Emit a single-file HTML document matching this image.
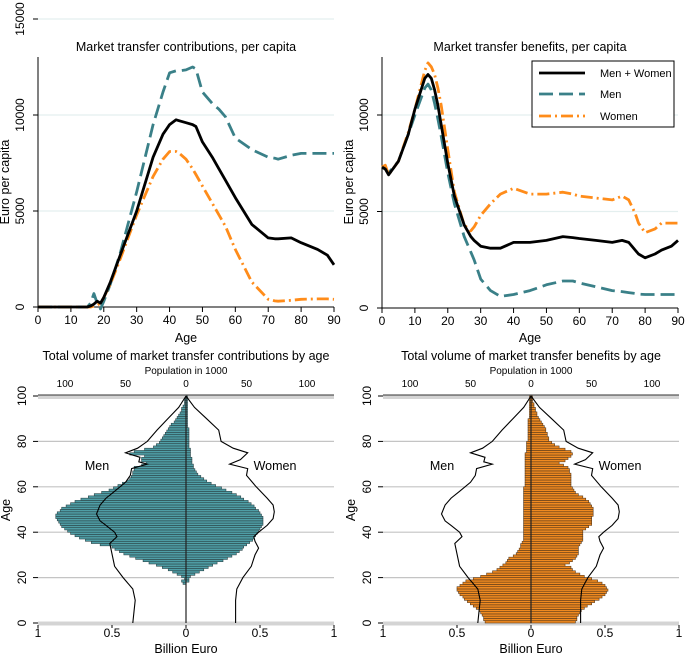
<!DOCTYPE html>
<html><head><meta charset="utf-8"><style>
body{margin:0;background:#fff;}
svg{display:block;font-family:"Liberation Sans",Arial,sans-serif;}
</style></head><body>
<svg id="fig" width="685" height="656" viewBox="0 0 685 656"></svg>
<script>
// ---- Per-capita data (age knots) ----
const cAges = [0,15,16,17,18,19,20,22,25,30,35,38,40,42,43,45,47,48,50,53,55,57,60,65,70,72,73,77,80,85,88,90];
const cTotal = [0,0,50,150,300,200,500,1300,2700,5000,7800,9000,9500,9750,9700,9600,9500,9400,8600,7800,7200,6600,5700,4300,3600,3550,3550,3600,3350,3000,2700,2200];
const cMen   = [0,0,200,700,200,-100,300,1200,2800,6000,9500,11200,12200,12300,12300,12350,12500,12400,11200,10600,10300,9900,8800,8200,7800,7750,7700,7900,8000,8000,8000,8000];
const cWomen = [0,0,0,50,100,200,500,1200,2500,4800,6800,7700,8100,8100,8000,7700,7200,6900,6300,5400,4800,4200,3000,1300,400,320,300,350,400,420,420,400];
const bAges = [0,1,2,5,8,10,13,14,15,16,17,18,20,22,25,27,28,30,33,36,40,45,50,55,58,60,65,70,73,75,77,78,80,83,85,88,90];
const bTotal = [7300,7200,6900,7600,9000,10300,11900,12100,11900,11300,10500,9500,7500,5800,4300,3700,3500,3200,3100,3100,3400,3400,3500,3700,3650,3600,3500,3400,3500,3400,3000,2800,2600,2800,3000,3200,3500];
const bMen   = [7300,7200,7000,7600,9000,10000,11400,11600,11300,10600,9800,8900,7000,5400,3700,2900,2500,1500,900,600,700,900,1200,1400,1400,1300,1100,900,850,800,750,720,700,700,700,700,700];
const bWomen = [7300,7400,6900,7600,9100,10300,12300,12700,12500,12100,11400,10500,8200,6000,4300,4000,4200,4800,5400,5900,6200,5900,5900,6000,5900,5800,5700,5600,5800,5600,4900,4400,3900,4100,4400,4400,4400];
const yTicks = [0,5000,10000,15000];
const xTicks = [0,10,20,30,40,50,60,70,80,90];

// ---- Pyramid data (ages 0..100) ----
const contribMen = [0,0,0,0,0,0,0,0,0,0,0,0,0,0,0,0,0,0.02,0.03,0.01,0.03,0.06,0.09,0.12,0.16,0.2,0.25,0.29,0.34,0.38,0.42,0.45,0.48,0.5,0.58,0.64,0.68,0.72,0.75,0.78,0.8,0.82,0.84,0.85,0.86,0.87,0.88,0.88,0.87,0.85,0.84,0.81,0.78,0.75,0.71,0.66,0.62,0.57,0.52,0.49,0.46,0.43,0.4,0.38,0.37,0.36,0.36,0.35,0.35,0.3,0.27,0.3,0.3,0.28,0.38,0.35,0.28,0.22,0.2,0.18,0.17,0.16,0.15,0.14,0.13,0.12,0.11,0.1,0.08,0.07,0.06,0.05,0.04,0.03,0.03,0.02,0.01,0.01,0.01,0,0];
const contribWomen = [0,0,0,0,0,0,0,0,0,0,0,0,0,0,0,0,0,0,0.02,0.02,0.03,0.06,0.09,0.12,0.15,0.18,0.21,0.25,0.28,0.31,0.34,0.36,0.38,0.39,0.41,0.43,0.45,0.46,0.47,0.48,0.49,0.5,0.51,0.52,0.52,0.52,0.52,0.51,0.5,0.49,0.47,0.46,0.44,0.42,0.39,0.37,0.34,0.31,0.27,0.24,0.2,0.17,0.14,0.12,0.1,0.08,0.07,0.06,0.05,0.05,0.04,0.04,0.04,0.03,0.03,0.03,0.03,0.02,0.02,0.02,0.02,0.02,0.02,0.02,0.02,0.02,0.01,0.01,0.01,0.01,0.01,0.01,0.01,0.01,0.01,0.01,0.01,0.01,0.01,0.01,0];
const benefitMen = [0.31,0.32,0.32,0.33,0.34,0.35,0.37,0.39,0.41,0.43,0.45,0.46,0.48,0.49,0.5,0.5,0.48,0.46,0.44,0.39,0.34,0.3,0.26,0.23,0.21,0.19,0.17,0.16,0.15,0.12,0.1,0.09,0.08,0.07,0.07,0.06,0.05,0.05,0.05,0.05,0.05,0.05,0.05,0.05,0.05,0.05,0.05,0.05,0.05,0.05,0.05,0.05,0.05,0.05,0.05,0.05,0.05,0.05,0.05,0.05,0.04,0.04,0.04,0.04,0.04,0.04,0.04,0.04,0.04,0.04,0.04,0.04,0.04,0.04,0.04,0.03,0.03,0.03,0.03,0.03,0.02,0.02,0.02,0.02,0.02,0.02,0.02,0.02,0.02,0.02,0.01,0.01,0.01,0.01,0.01,0.01,0.01,0.01,0.01,0.01,0];
const benefitWomen = [0.3,0.31,0.31,0.32,0.33,0.34,0.36,0.38,0.41,0.43,0.46,0.48,0.5,0.51,0.52,0.51,0.5,0.48,0.45,0.41,0.36,0.33,0.3,0.28,0.27,0.23,0.26,0.28,0.3,0.31,0.32,0.32,0.32,0.32,0.33,0.34,0.35,0.35,0.35,0.35,0.35,0.37,0.39,0.41,0.41,0.41,0.41,0.42,0.42,0.42,0.42,0.41,0.4,0.39,0.37,0.35,0.32,0.3,0.29,0.28,0.27,0.27,0.27,0.27,0.27,0.27,0.26,0.26,0.25,0.22,0.19,0.23,0.25,0.27,0.28,0.27,0.23,0.19,0.16,0.14,0.12,0.12,0.11,0.11,0.1,0.1,0.09,0.08,0.07,0.06,0.05,0.04,0.04,0.03,0.03,0.02,0.02,0.01,0.01,0.01,0];
const popAges = [0,5,10,15,20,25,30,35,38,40,43,45,48,52,55,58,62,65,68,70,71,73,75,77,80,85,90,95,100];
const popMen   = [44,43,42,44,52,59,61,63,57,59,66,71,74,71,66,59,50,46,45,32,39,38,50,40,32,24,15,6,0];
const popAgesW = [0,5,10,15,20,25,30,33,36,38,40,43,46,49,52,55,60,65,68,70,72,75,77,80,85,90,95,100];
const popWomen = [41,41,41,42,47,54,57,60,57,56,60,67,72,73,72,67,58,50,51,36,45,51,39,29,27,17,7,0];
const pyrTicksB = [1,0.5,0,0.5,1];
const pyrTicksP = [100,50,0,50,100];
const pyrAgeTicks = [0,20,40,60,80,100];

const NS="http://www.w3.org/2000/svg";
const svg=document.getElementById('fig');
function mk(tag,attrs,parent){const e=document.createElementNS(NS,tag);for(const k in attrs)e.setAttribute(k,attrs[k]);(parent||svg).appendChild(e);return e;}
function txt(x,y,s,size,anchor,rot,parent){const t=mk('text',{x:x,y:y,'font-size':size,'text-anchor':anchor||'middle',fill:'#000'},parent);if(rot)t.setAttribute('transform','rotate(-90 '+x+' '+y+')');t.textContent=s;return t;}

const TEAL='#3a8088', ORANGE='#ff8c1a';

function lineChart(cfg){
  const g=mk('g',{});
  
  
  const X=a=>cfg.x0+(cfg.x1-cfg.x0)*a/90;
  const Y=v=>cfg.y0-(cfg.y0-cfg.y10k)*v/10000;
  yTicks.forEach(v=>{
    if(v===15000 && !cfg.show15) return;
    if(v>0){const gl=mk('line',{x1:cfg.x0,x2:cfg.x1,y1:Y(v),y2:Y(v),stroke:'#e4efef','stroke-width':1.2},g);
      }
    mk('line',{x1:cfg.x0-5,x2:cfg.x0,y1:Y(v),y2:Y(v),stroke:'#000','stroke-width':1},g);
    const t=txt(cfg.x0-14,Y(v),String(v),12,'middle',true,g);
    
  });
  mk('line',{x1:cfg.x0,x2:cfg.x0,y1:57,y2:cfg.y0,stroke:'#000','stroke-width':1},g);
  mk('line',{x1:cfg.x0,x2:cfg.x1,y1:cfg.y0,y2:cfg.y0,stroke:'#000','stroke-width':1},g);
  xTicks.forEach(a=>{
    mk('line',{x1:X(a),x2:X(a),y1:cfg.y0,y2:cfg.y0+5,stroke:'#000','stroke-width':1},g);
    const t=txt(X(a),cfg.y0+17,String(a),12,'middle',false,g);
    
  });
  const tt=txt((cfg.x0+cfg.x1)/2,51,cfg.title,12.5,'middle',false,g);
  
  const yl=txt(cfg.x0-29,182,'Euro per capita',12.5,'middle',true,g);
  
  const xl=txt((cfg.x0+cfg.x1)/2,342,'Age',12.5,'middle',false,g);
  
  const series=[[cfg.men,TEAL,'14 6','men-line'],[cfg.women,ORANGE,'12 4 2 4','women-line'],[cfg.total,'#000','','total-line']];
  series.forEach(s=>{
    const d=cfg.ages.map((a,i)=>(i?'L':'M')+X(a).toFixed(1)+','+Y(s[0][i]).toFixed(1)).join(' ');
    const p=mk('path',{d:d,fill:'none',stroke:s[1],'stroke-width':2.8,'stroke-linejoin':'round'},g);
    if(s[2])p.setAttribute('stroke-dasharray',s[2]);
    
  });
}
lineChart({name:'contributions-per-capita-chart',x0:38,x1:334,y0:307,y10k:115,ages:cAges,total:cTotal,men:cMen,women:cWomen,title:'Market transfer contributions, per capita',show15:true});
lineChart({name:'benefits-per-capita-chart',x0:382,x1:678,y0:308,y10k:115,ages:bAges,total:bTotal,men:bMen,women:bWomen,title:'Market transfer benefits, per capita',show15:false});

// legend
const lg=mk('g',{});


mk('rect',{x:532,y:61,width:142,height:66,fill:'#fff',stroke:'#000','stroke-width':1},lg);
[['Men + Women','#000','',73],['Men',TEAL,'14 6',94],['Women',ORANGE,'12 4 2 4',116]].forEach(e=>{
  const l=mk('line',{x1:539,x2:585,y1:e[3],y2:e[3],stroke:e[1],'stroke-width':2.8},lg);
  if(e[2])l.setAttribute('stroke-dasharray',e[2]);
  const t=txt(600,e[3]+4,e[0],11,'start',false,lg);
  
});

function pyramid(cfg){
  const g=mk('g',{});
  
  
  const cx=cfg.cx, W=148;
  const XB=v=>W*v;
  const XP=v=>1.21*v;
  const Y=a=>623-2.27*a;
  const L=cx-W, R=cx+W;
  mk('rect',{x:L,y:Y(0)-1.5,width:2*W,height:4,fill:'#d4d4d4'},g);
  mk('rect',{x:L,y:Y(100)-1,width:2*W,height:4,fill:'#d4d4d4'},g);
  mk('line',{x1:L,x2:R,y1:Y(100)-1,y2:Y(100)-1,stroke:'#333','stroke-width':1},g);
  pyrAgeTicks.forEach(a=>{
    if(a>0&&a<100){const gl=mk('line',{x1:L,x2:R,y1:Y(a),y2:Y(a),stroke:'#c4c4c4','stroke-width':1.2},g);
      }
    mk('line',{x1:L-5,x2:L,y1:Y(a),y2:Y(a),stroke:'#000','stroke-width':1},g);
    const t=txt(L-12,Y(a),String(a),12,'middle',true,g);
    
  });
  for(let a=0;a<=100;a++){
    const h=2.27;
    if(cfg.men[a]>0){const r=mk('rect',{x:cx-XB(cfg.men[a]),y:Y(a)-h,width:XB(cfg.men[a]),height:h,fill:cfg.fill,stroke:cfg.stroke,'stroke-width':0.6},g);
      }
    if(cfg.women[a]>0){const r=mk('rect',{x:cx,y:Y(a)-h,width:XB(cfg.women[a]),height:h,fill:cfg.fill,stroke:cfg.stroke,'stroke-width':0.6},g);
      }
  }
  mk('line',{x1:cx,x2:cx,y1:Y(100),y2:Y(0),stroke:'#222','stroke-width':1.2},g);
  const dm=popAges.map((a,i)=>(i?'L':'M')+(cx-XP(popMen[i])).toFixed(1)+','+Y(a).toFixed(1)).join(' ');
  const pm=mk('path',{d:dm,fill:'none',stroke:'#000','stroke-width':1.1},g);
  
  const dw=popAgesW.map((a,i)=>(i?'L':'M')+(cx+XP(popWomen[i])).toFixed(1)+','+Y(a).toFixed(1)).join(' ');
  const pw=mk('path',{d:dw,fill:'none',stroke:'#000','stroke-width':1.1},g);
  
  pyrTicksB.forEach((v,i)=>{
    const x=i<2?cx-XB(v):cx+XB(v);
    mk('line',{x1:x,x2:x,y1:Y(0)+2,y2:Y(0)+5,stroke:'#000'},g);
    const t=txt(x,637,String(v),12,'middle',false,g);
    
  });
  pyrTicksP.forEach((v,i)=>{
    const x=i<2?cx-XP(v):cx+XP(v);
    const t=txt(x,387,String(v),10,'middle',false,g);
    
  });
  const t1=txt(cx,374,'Population in 1000',10,'middle',false,g);
  
  const t2=txt(cx,360,cfg.title,12.5,'middle',false,g);
  
  const t3=txt(cx,653,'Billion Euro',12.5,'middle',false,g);
  
  const t4=txt(L-28,510,'Age',12.5,'middle',true,g);
  
  const t5=txt(cx-89,470,'Men',12.5,'middle',false,g);
  
  const t6=txt(cx+89,470,'Women',12.5,'middle',false,g);
  
}
pyramid({name:'contributions-pyramid',cx:186,men:contribMen,women:contribWomen,fill:'#4f9ea6',stroke:'#2b4548',title:'Total volume of market transfer contributions by age'});
pyramid({name:'benefits-pyramid',cx:531,men:benefitMen,women:benefitWomen,fill:'#f08a20',stroke:'#5a3a1a',title:'Total volume of market transfer benefits by age'});
</script>
</body></html>
